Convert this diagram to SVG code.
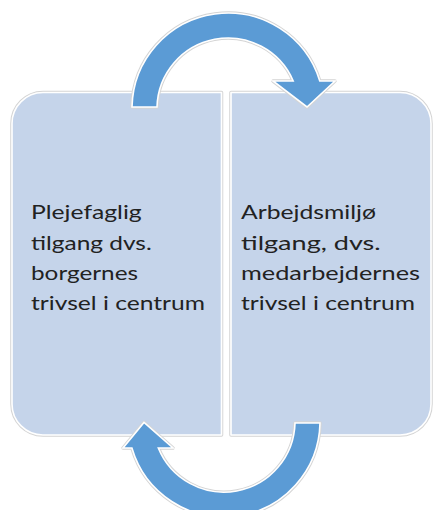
<svg xmlns="http://www.w3.org/2000/svg" xmlns:xlink="http://www.w3.org/1999/xlink" width="434" height="510" viewBox="0 0 434 510">
  <style>
    .halo { fill: none; stroke: #d4d4d4; stroke-width: 3.5; stroke-linejoin: round; }
    .box { fill: #c5d4ea; stroke: #ffffff; stroke-width: 1.6; stroke-linejoin: round; }
    .arrow { fill: #5b9bd5; stroke: #ffffff; stroke-width: 1.6; stroke-linejoin: miter; }
    .label { font-family: Lato, "Open Sans", "Liberation Sans", sans-serif; font-size: 20px; fill: #222222; }
  </style>
  <defs>
    <path id="arrowTop" d="M132,107 A96,96 0 0 1 319.8,81 L335,81 L307,107 L273,81 L293.2,81 A71,71 0 0 0 157,107 Z"/>
    <path id="arrowBottom" d="M320,423 A96,96 0 0 1 131.9,448 L123,448 L144,422.5 L173,448 L158.3,448 A71,71 0 0 0 295,423 Z"/>
  </defs>
  <rect width="434" height="510" fill="#ffffff"/>

  <g id="node-left">
    <path class="halo" d="M43,92.5 H221.5 V435 H43 A31,31 0 0 1 12,404 V123.5 A31,31 0 0 1 43,92.5 Z"/>
    <path class="box" d="M43,92.5 H221.5 V435 H43 A31,31 0 0 1 12,404 V123.5 A31,31 0 0 1 43,92.5 Z"/>
    <text class="label">
      <tspan x="31" y="219" textLength="110.7" lengthAdjust="spacingAndGlyphs">Plejefaglig</tspan>
      <tspan x="31" y="249.5" textLength="120.7" lengthAdjust="spacingAndGlyphs">tilgang dvs.</tspan>
      <tspan x="31" y="280" textLength="107" lengthAdjust="spacingAndGlyphs">borgernes</tspan>
      <tspan x="31" y="310" textLength="174" lengthAdjust="spacingAndGlyphs">trivsel i centrum</tspan>
    </text>
  </g>

  <g id="node-right">
    <path class="halo" d="M231,92.5 H400 A31,31 0 0 1 431,123.5 V404 A31,31 0 0 1 400,435 H231 Z"/>
    <path class="box" d="M231,92.5 H400 A31,31 0 0 1 431,123.5 V404 A31,31 0 0 1 400,435 H231 Z"/>
    <text class="label">
      <tspan x="241" y="219" textLength="135" lengthAdjust="spacingAndGlyphs">Arbejdsmiljø</tspan>
      <tspan x="241" y="249.5" textLength="139.7" lengthAdjust="spacingAndGlyphs">tilgang, dvs.</tspan>
      <tspan x="241" y="280" textLength="179" lengthAdjust="spacingAndGlyphs">medarbejdernes</tspan>
      <tspan x="241" y="310" textLength="174" lengthAdjust="spacingAndGlyphs">trivsel i centrum</tspan>
    </text>
  </g>

  <g id="connectors">
    <g id="arrow-top">
      <use xlink:href="#arrowTop" class="halo"/>
      <use xlink:href="#arrowTop" class="arrow"/>
    </g>
    <g id="arrow-bottom">
      <use xlink:href="#arrowBottom" class="halo"/>
      <use xlink:href="#arrowBottom" class="arrow"/>
    </g>
  </g>
</svg>
